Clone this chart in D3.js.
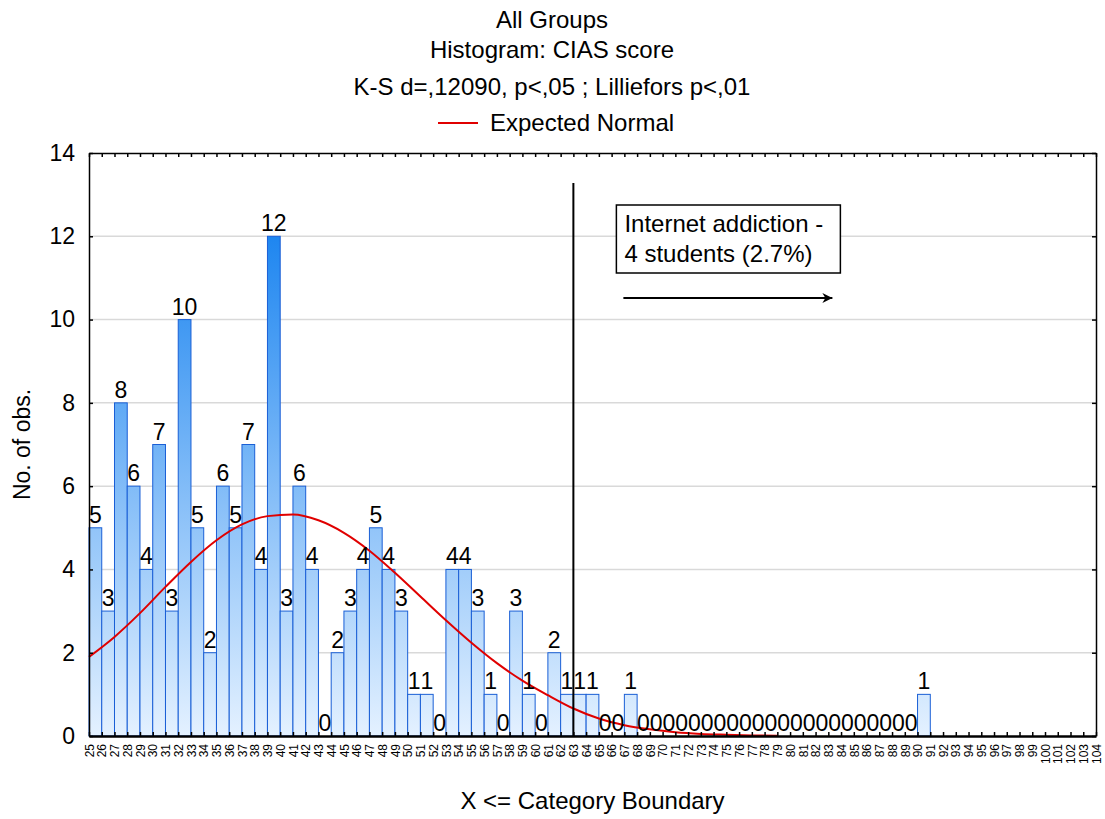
<!DOCTYPE html>
<html>
<head>
<meta charset="utf-8">
<script src="https://cdn.jsdelivr.net/npm/d3@7/dist/d3.min.js"></script>
<style>
  body { margin: 0; background: #fff; }
  svg { font-family: 'Liberation Sans', Arial, sans-serif; }
</style>
</head>
<body>
<div id="chart"></div>
<script>
// category boundaries (X <= boundary), one bin between each pair
const boundaries = [25, 26, 27, 28, 29, 30, 31, 32, 33, 34, 35, 36, 37, 38, 39, 40, 41, 42, 43, 44,
  45, 46, 47, 48, 49, 50, 51, 52, 53, 54, 55, 56, 57, 58, 59, 60, 61, 62, 63, 64,
  65, 66, 67, 68, 69, 70, 71, 72, 73, 74, 75, 76, 77, 78, 79, 80, 81, 82, 83, 84,
  85, 86, 87, 88, 89, 90, 91, 92, 93, 94, 95, 96, 97, 98, 99, 100, 101, 102, 103, 104];

// observed counts per bin, starting with bin (25,26]
const counts = [5, 3, 8, 6, 4, 7, 3, 10, 5, 2, 6, 5, 7, 4, 12, 3, 6, 4, 0, 2,
  3, 4, 5, 4, 3, 1, 1, 0, 4, 4, 3, 1, 0, 3, 1, 0, 2, 1, 1, 1,
  0, 0, 1, 0, 0, 0, 0, 0, 0, 0, 0, 0, 0, 0, 0, 0, 0, 0, 0, 0,
  0, 0, 0, 0, 0, 1];

// expected normal curve
const normalX = [25, 27, 29, 31, 33, 35, 37, 39, 41, 43, 45, 47, 49, 51, 53, 55, 57, 59, 61, 63, 65, 67, 69, 71, 73, 75, 77, 79];
const normalY = [1.90, 2.38, 2.95, 3.58, 4.18, 4.70, 5.08, 5.28, 5.32, 5.18, 4.88, 4.45, 3.92, 3.35, 2.78, 2.24, 1.75, 1.33, 0.98, 0.66, 0.42, 0.26, 0.16, 0.09, 0.05, 0.03, 0.015, 0.005];

const yTicks = [0, 2, 4, 6, 8, 10, 12, 14];
const cutoff = 63;
const titles = ['All Groups', 'Histogram: CIAS score', 'K-S d=,12090, p<,05 ; Lilliefors p<,01'];
const legendLabel = 'Expected Normal';
const noteLines = ['Internet addiction -', '4 students (2.7%)'];

const width = 1105, height = 819;
const margin = { top: 153, right: 9, bottom: 83, left: 89 };
const innerW = width - margin.left - margin.right;
const innerH = height - margin.top - margin.bottom;

const svg = d3.select('#chart').append('svg').attr('width', width).attr('height', height);

const x = d3.scaleLinear().domain([25, 104]).range([0, innerW]);
const y = d3.scaleLinear().domain([0, 14]).range([innerH, 0]);

// titles + legend
const titleY = [28, 58, 95];
titles.forEach((t, i) => {
  svg.append('text').attr('x', 552).attr('y', titleY[i]).attr('text-anchor', 'middle')
    .attr('font-size', 24).attr('fill', '#000').text(t);
});
svg.append('line').attr('x1', 438).attr('x2', 478).attr('y1', 123).attr('y2', 123)
  .attr('stroke', '#e00000').attr('stroke-width', 2);
svg.append('text').attr('x', 490).attr('y', 131).attr('font-size', 24).text(legendLabel);

const g = svg.append('g').attr('transform', `translate(${margin.left},${margin.top})`);

const defs = svg.append('defs');
const grad = defs.append('linearGradient').attr('id', 'barGrad')
  .attr('gradientUnits', 'userSpaceOnUse')
  .attr('x1', 0).attr('x2', 0).attr('y1', y(0)).attr('y2', y(12));
grad.append('stop').attr('offset', '0%').attr('stop-color', '#e4f1ff');
grad.append('stop').attr('offset', '100%').attr('stop-color', '#1e86f0');

// gridlines
g.append('g').selectAll('line').data(yTicks.filter(d => d > 0 && d < 14)).enter().append('line')
  .attr('x1', 0).attr('x2', innerW).attr('y1', d => y(d)).attr('y2', d => y(d))
  .attr('stroke', '#d9d9d9').attr('stroke-width', 1.5);

const bins = counts.map((c, i) => ({ lo: boundaries[i], hi: boundaries[i + 1], count: c }));

// bars
g.append('g').selectAll('rect').data(bins.filter(d => d.count > 0)).enter().append('rect')
  .attr('x', d => x(d.lo))
  .attr('y', d => y(d.count))
  .attr('width', d => x(d.hi) - x(d.lo))
  .attr('height', d => y(0) - y(d.count))
  .attr('fill', 'url(#barGrad)')
  .attr('stroke', '#1a5fd6')
  .attr('stroke-width', 1);

// expected normal
const line = d3.line().x(d => x(d[0])).y(d => y(d[1])).curve(d3.curveMonotoneX);
g.append('path').datum(normalX.map((v, i) => [v, normalY[i]]))
  .attr('d', line).attr('fill', 'none').attr('stroke', '#e00000').attr('stroke-width', 2);

// count labels
g.append('g').selectAll('text').data(bins).enter().append('text')
  .attr('x', d => (x(d.lo) + x(d.hi)) / 2)
  .attr('y', d => y(d.count) - 5)
  .attr('text-anchor', 'middle')
  .attr('font-size', 23)
  .text(d => d.count);

// axes
const yAxis = d3.axisLeft(y).tickValues(yTicks).tickSizeInner(-4).tickSizeOuter(0).tickPadding(14);
g.append('g').attr('class', 'y-axis').call(yAxis);
const yAxisR = d3.axisRight(y).tickValues(yTicks).tickSizeInner(-4).tickSizeOuter(0).tickFormat('');
g.append('g').attr('transform', `translate(${innerW},0)`).call(yAxisR);
const xAxisTop = d3.axisTop(x).tickValues(boundaries).tickSizeInner(-4).tickSizeOuter(0).tickFormat('');
g.append('g').call(xAxisTop);
const xAxis = d3.axisBottom(x).tickValues(boundaries).tickSizeInner(-4).tickSizeOuter(0).tickFormat(d3.format('d'));
const xg = g.append('g').attr('class', 'x-axis').attr('transform', `translate(0,${innerH})`).call(xAxis);
xg.selectAll('text')
  .attr('transform', 'rotate(-90)')
  .attr('x', -8).attr('y', 0).attr('dy', '0.35em')
  .attr('text-anchor', 'end')
  .attr('font-size', 12);

g.selectAll('.domain').attr('stroke', '#000').attr('stroke-width', 1.5);
g.selectAll('.tick line').attr('stroke', '#000').attr('stroke-width', 1.5);
g.select('.y-axis').selectAll('text').attr('font-size', 23).attr('fill', '#000');
g.select('.x-axis .domain').attr('stroke-width', 2.5);

// cutoff line
g.append('line').attr('x1', x(cutoff)).attr('x2', x(cutoff))
  .attr('y1', 30).attr('y2', innerH)
  .attr('stroke', '#000').attr('stroke-width', 2);

// annotation
const boxX = x(cutoff) + 43, boxY = 52;
g.append('rect').attr('x', boxX).attr('y', boxY).attr('width', 224).attr('height', 68)
  .attr('fill', '#fff').attr('stroke', '#000').attr('stroke-width', 1.5);
noteLines.forEach((t, i) => {
  g.append('text').attr('x', boxX + 8).attr('y', boxY + 27 + i * 30).attr('font-size', 24).text(t);
});
defs.append('marker').attr('id', 'arrow').attr('viewBox', '0 0 10 10')
  .attr('refX', 10).attr('refY', 5).attr('markerWidth', 24).attr('markerHeight', 10)
  .attr('markerUnits', 'userSpaceOnUse').attr('orient', 'auto')
  .append('path').attr('d', 'M0,0L10,5L0,10L3,5Z').attr('fill', '#000');
g.append('line').attr('x1', boxX + 7).attr('x2', boxX + 216)
  .attr('y1', boxY + 93).attr('y2', boxY + 93)
  .attr('stroke', '#000').attr('stroke-width', 2).attr('marker-end', 'url(#arrow)');

// axis titles
svg.append('text').attr('transform', `translate(30,${margin.top + innerH / 2}) rotate(-90)`)
  .attr('text-anchor', 'middle').attr('font-size', 23).text('No. of obs.');
svg.append('text').attr('x', margin.left + innerW / 2).attr('y', 809)
  .attr('text-anchor', 'middle').attr('font-size', 24).text('X <= Category Boundary');
</script>
</body>
</html>
